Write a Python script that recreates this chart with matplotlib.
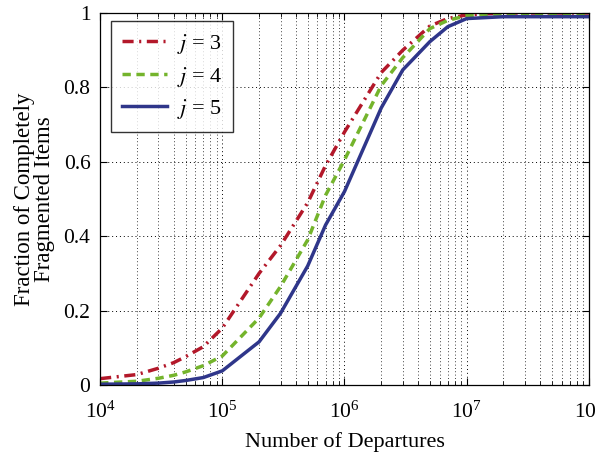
import matplotlib
matplotlib.use("Agg")
import matplotlib.pyplot as plt
import numpy as np

plt.rcParams['font.family'] = ['Liberation Serif', 'DejaVu Serif']
plt.rcParams['mathtext.fontset'] = 'stix'

departures = [1e4, 2e4, 3e4, 4e4, 5e4, 7e4, 1e5, 2e5, 3e5, 5e5, 7e5, 1e6, 2e6, 3e6, 5e6, 7e6, 1e7, 2e7, 5e7, 1e8]
frac_j3 = [0.017, 0.028, 0.045, 0.06, 0.076, 0.103, 0.153, 0.30, 0.375, 0.49, 0.59, 0.68, 0.84, 0.90, 0.965, 0.985, 0.995, 1.0, 1.0, 1.0]
frac_j4 = [0.005, 0.010, 0.018, 0.026, 0.035, 0.052, 0.078, 0.18, 0.265, 0.39, 0.51, 0.605, 0.805, 0.88, 0.958, 0.98, 0.993, 0.998, 0.998, 0.998]
frac_j5 = [0.002, 0.003, 0.005, 0.008, 0.012, 0.02, 0.038, 0.116, 0.193, 0.32, 0.43, 0.52, 0.745, 0.847, 0.923, 0.963, 0.985, 0.99, 0.99, 0.99]
labels = ['$j$ = 3', '$j$ = 4', '$j$ = 5']

fig = plt.figure(figsize=(5.96, 4.57), dpi=100)
ax = fig.add_axes([0.168, 0.1576, 0.82, 0.8140])

ax.plot(departures, frac_j3, color='#b3182a', lw=2.5, linestyle=(0, (3.2, 1.6, 0.6, 1.6)), label=labels[0])
ax.plot(departures, frac_j4, color='#74b42c', lw=2.5, linestyle=(0, (2.4, 1.6)), label=labels[1])
ax.plot(departures, frac_j5, color='#2f368a', lw=2.5, linestyle='-', label=labels[2])

ax.set_xscale('log')
ax.set_xlim(1e4, 1e8)
ax.set_ylim(0, 1)
ax.set_yticks([0, 0.2, 0.4, 0.6, 0.8, 1])
ax.set_yticklabels(['0', '0.2', '0.4', '0.6', '0.8', '1'])
ax.grid(True, which='major', linestyle=(0, (1, 3)), color='black', lw=0.7)
ax.grid(True, which='minor', axis='x', linestyle=(0, (1, 3)), color='black', lw=0.6)
ax.tick_params(which='both', direction='in', top=True, right=True, labelsize=15.5)
ax.tick_params(which='major', length=5)
ax.tick_params(which='minor', length=3)
ax.tick_params(axis='x', pad=12)
ax.tick_params(axis='y', pad=7)
for s in ax.spines.values():
    s.set_linewidth(0.9)

ax.set_xlabel('Number of Departures', fontsize=16, labelpad=7)
ax.set_ylabel('Fraction of Completely\nFragmented Items', fontsize=16.5, linespacing=0.92, labelpad=6)

leg = ax.legend(loc='upper left', bbox_to_anchor=(11/489, 1 - 8/372), borderaxespad=0,
                fontsize=16, frameon=True, fancybox=False, edgecolor='black',
                handlelength=2.0, handletextpad=0.45, labelspacing=0.38, borderpad=0.5)
leg.get_frame().set_linewidth(1.0)

fig.savefig('out.png', dpi=100)
